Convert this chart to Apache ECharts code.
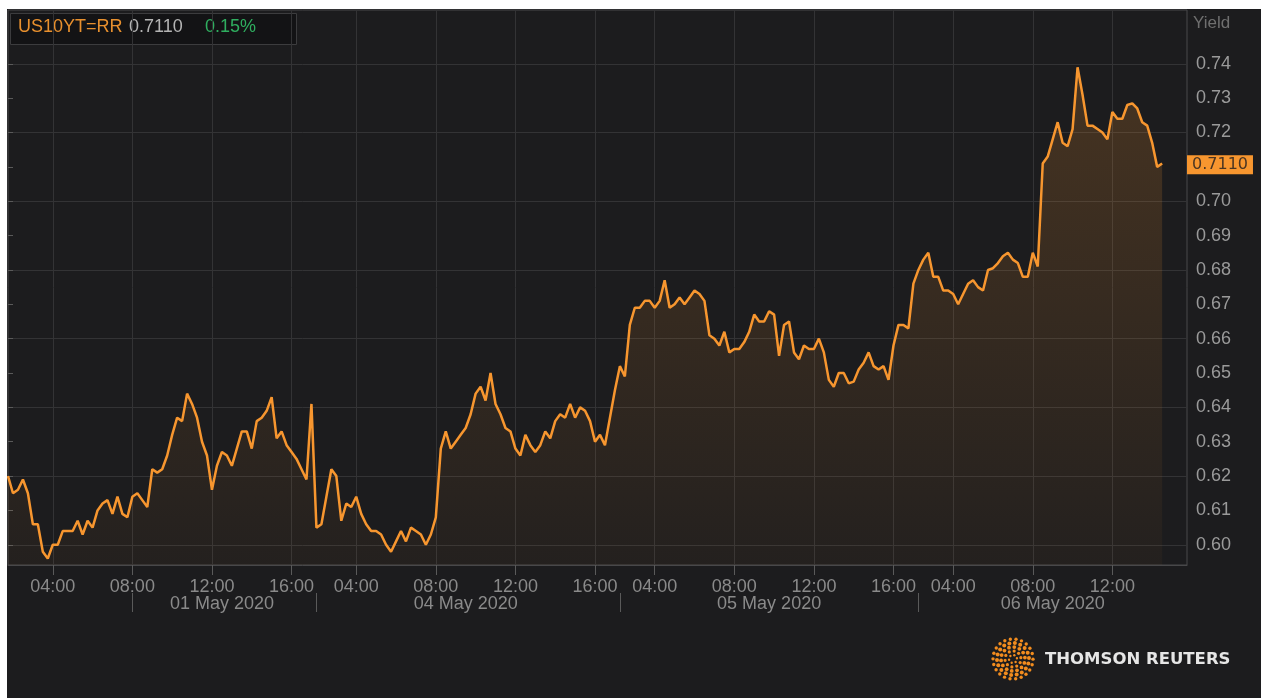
<!DOCTYPE html>
<html>
<head>
<meta charset="utf-8">
<script src="https://cdn.jsdelivr.net/npm/echarts/dist/echarts.min.js"></script>
<style>
html,body{margin:0;padding:0;background:#ffffff;width:1261px;height:698px;overflow:hidden}
#chart{position:absolute;left:7px;top:9px;width:1254px;height:689px;background:#1c1c1e}
</style>
</head>
<body>
<div id="chart"></div>
<script>
// ---------- data ----------
const instrument = 'US10YT=RR';
const changePct = '0.15%';
const yAxisTitle = 'Yield';

// trading sessions shown on the axis (15-minute samples)
const sessions = [
  { date: '01 May 2020', start: '01:45', end: '17:00' },
  { date: '04 May 2020', start: '02:00', end: '17:00' },
  { date: '05 May 2020', start: '02:15', end: '17:00' },
  { date: '06 May 2020', start: '02:15', end: '15:45' }
];

const day1 = [0.620,0.615,0.616,0.619,0.615,0.606,0.606,0.598,0.596,0.600,
              0.600,0.604,0.604,0.604,0.607,0.603,0.607,0.605,0.610,0.612,
              0.613,0.609,0.614,0.609,0.608,0.614,0.615,0.613,0.611,0.622,
              0.621,0.622,0.626,0.632,0.637,0.636,0.644,0.641,0.637,0.630,
              0.626,0.616,0.623,0.627,0.626,0.623,0.628,0.633,0.633,0.628,
              0.636,0.637,0.639,0.643,0.631,0.633,0.629,0.627,0.625,0.622,
              0.619,0.641];
const day2 = [0.605,0.606,0.614,0.622,0.620,0.607,0.612,0.611,0.614,0.609,
              0.606,0.604,0.604,0.603,0.600,0.598,0.601,0.604,0.601,0.605,
              0.604,0.603,0.600,0.603,0.608,0.628,0.633,0.628,0.630,0.632,
              0.634,0.638,0.644,0.646,0.642,0.650,0.641,0.638,0.634,0.633,
              0.628,0.626,0.632,0.629,0.627,0.629,0.633,0.631,0.636,0.638,
              0.637,0.641,0.637,0.640,0.639,0.636,0.630,0.632,0.629,0.637,
              0.645];
const day3 = [0.652,0.649,0.664,0.669,0.669,0.671,0.671,0.669,0.671,0.677,
              0.669,0.670,0.672,0.670,0.672,0.674,0.673,0.671,0.661,0.660,
              0.658,0.662,0.656,0.657,0.657,0.659,0.662,0.667,0.665,0.665,
              0.668,0.667,0.655,0.664,0.665,0.656,0.654,0.658,0.657,0.657,
              0.660,0.656,0.648,0.646,0.650,0.650,0.647,0.6475,0.651,0.653,
              0.656,0.652,0.651,0.652,0.648,0.658,0.664,0.664,0.663,0.676];
const day4 = [0.680,0.683,0.685,0.678,0.678,0.674,0.674,0.673,0.670,0.673,
              0.676,0.677,0.675,0.674,0.680,0.6805,0.682,0.684,0.685,0.683,
              0.682,0.678,0.678,0.685,0.681,0.711,0.713,0.718,0.723,0.717,
              0.716,0.721,0.739,0.731,0.722,0.722,0.721,0.720,0.718,0.726,
              0.724,0.724,0.728,0.7285,0.727,0.723,0.722,0.717,0.710,0.711];

const timeTickLabels = ['04:00', '08:00', '12:00', '16:00'];
const dateSeparators = ['01 May 2020 08:00', '04 May 2020 02:00', '05 May 2020 02:15', '06 May 2020 02:15'];

// ---------- build ----------
function toMin(s){ const p = s.split(':').map(Number); return p[0]*60 + p[1]; }
function fmt(m){ return String(Math.floor(m/60)).padStart(2,'0') + ':' + String(m%60).padStart(2,'0'); }
const categories = [];
sessions.forEach(s => { for (let m = toMin(s.start); m <= toMin(s.end); m += 15) categories.push(s.date + ' ' + fmt(m)); });
const values = [].concat(day1, day2, day3, day4);
const seriesData = categories.map((c, i) => i < values.length ? values[i] : null);
const lastValue = values[values.length - 1];
const lastPrice = lastValue.toFixed(4);

const sepIdx = dateSeparators.map(s => categories.indexOf(s));
const bounds = sepIdx.concat([categories.length - 1]);
const dateLabelIdx = [];
for (let k = 0; k < bounds.length - 1; k++) dateLabelIdx.push(Math.floor((bounds[k] + bounds[k+1]) / 2));

const isTimeTick = (i, v) => timeTickLabels.indexOf(v.slice(-5)) >= 0;
const isSep = (i, v) => dateSeparators.indexOf(v) >= 0;
const isDateLabel = (i, v) => dateLabelIdx.indexOf(i) >= 0;

const FONT = '"Liberation Sans", Arial, sans-serif';
const ORANGE = '#f7962f';

// layout: grid 0 = plot box, grid 1 = 0.60..0.74 span for labels/gridlines
const plotTop = 1, plotBottom = 133, plotLeft = 1, plotRight = 74;
const yMin = 0.59412, yMax = 0.75566;
const plotH = 689 - plotTop - plotBottom;
const pxPerUnit = plotH / (yMax - yMin);
const g1Top = plotTop + (yMax - 0.74) * pxPerUnit;
const g1Bottom = plotBottom + (0.60 - yMin) * pxPerUnit;

// logo dots
const logoDots = [];
const rings = [[4,6,1.2],[8,10,1.6],[12,14,1.9],[16,18,2.0],[20,22,1.7]];
rings.forEach(r => { for (let k = 0; k < r[1]; k++) { const a = k / r[1] * Math.PI * 2 + r[0]; logoDots.push({ type:'circle', shape:{ cx: 1006 + Math.cos(a)*r[0], cy: 650 + Math.sin(a)*r[0], r: r[2] }, style:{ fill:'#f28c1e' } }); } });

const chart = echarts.init(document.getElementById('chart'), null, { renderer: 'canvas' });
chart.setOption({
  animation: false,
  backgroundColor: '#1c1c1e',
  grid: [
    { left: plotLeft, right: plotRight, top: plotTop, bottom: plotBottom, show: true, borderColor: '#48484a', borderWidth: 1, backgroundColor: 'transparent' },
    { left: plotLeft, right: plotRight, top: g1Top, bottom: g1Bottom }
  ],
  xAxis: [
    { type: 'category', gridIndex: 0, data: categories, boundaryGap: false,
      axisLine: { show: true, lineStyle: { color: '#48484a' } },
      axisTick: { show: true, interval: isTimeTick, length: 10, lineStyle: { color: '#5a5a5a' } },
      axisLabel: { interval: isTimeTick, formatter: v => v.slice(-5), color: '#8a8a8a', fontSize: 18, fontFamily: FONT, margin: 13 },
      splitLine: { show: true, interval: isTimeTick, lineStyle: { color: '#333335' } } },
    { type: 'category', gridIndex: 0, data: categories, boundaryGap: false, position: 'bottom', offset: 28,
      axisLine: { show: false },
      axisTick: { show: true, interval: isSep, length: 19, lineStyle: { color: '#5a5a5a' } },
      axisLabel: { interval: isDateLabel, formatter: v => v.slice(0, 11), color: '#8a8a8a', fontSize: 18, fontFamily: FONT, margin: 2 },
      splitLine: { show: false } },
    { type: 'value', gridIndex: 1, show: false }
  ],
  yAxis: [
    { type: 'value', gridIndex: 0, min: yMin, max: yMax, show: false },
    { type: 'value', gridIndex: 1, min: 0.60, max: 0.74, interval: 0.01, position: 'right',
      axisLine: { show: false },
      axisTick: { show: true, length: 5, lineStyle: { color: '#5a5a5a' } },
      axisLabel: { color: '#9a9a9a', fontSize: 18, fontFamily: FONT, margin: 9, formatter: v => v.toFixed(2) },
      splitLine: { show: true, lineStyle: { color: ['#333335', 'rgba(0,0,0,0)'] } } }
  ],
  series: [{
    type: 'line', xAxisIndex: 0, yAxisIndex: 0, data: seriesData,
    symbol: 'none', showSymbol: false, z: 3,
    lineStyle: { color: ORANGE, width: 2.5 },
    itemStyle: { color: ORANGE },
    areaStyle: { color: new echarts.graphic.LinearGradient(0, 0, 0, 1, [
      { offset: 0, color: 'rgba(247,150,47,0.28)' },
      { offset: 1, color: 'rgba(247,150,47,0.05)' }]) },
    markLine: {
      silent: true, symbol: 'none', animation: false, z: 10,
      lineStyle: { color: 'rgba(0,0,0,0)', width: 1, type: 'solid' },
      label: { show: true, position: 'end', distance: 0, formatter: lastPrice, offset: [0, -2],
               backgroundColor: ORANGE, color: '#4a3522', fontFamily: '"DejaVu Sans", sans-serif', fontSize: 16,
               padding: [1, 5, 1, 5], lineHeight: 17 },
      emphasis: { disabled: true },
      data: [{ yAxis: lastValue }]
    }
  }],
  graphic: [
    { type: 'rect', shape: { x: 3.5, y: 4.5, width: 286, height: 31 }, style: { fill: '#131315', stroke: '#3c3c3e', lineWidth: 1 } },
    { type: 'text', x: 11, y: 18.5, style: { text: instrument, fill: '#e8902e', font: '18px ' + FONT, textVerticalAlign: 'middle' } },
    { type: 'text', x: 122, y: 18.5, style: { text: lastPrice, fill: '#b4b4b4', font: '18px ' + FONT, textVerticalAlign: 'middle' } },
    { type: 'text', x: 198, y: 18.5, style: { text: changePct, fill: '#2fae5f', font: '18px ' + FONT, textVerticalAlign: 'middle' } },
    { type: 'text', x: 1186, y: 14, style: { text: yAxisTitle, fill: '#6f6f6f', font: '17px ' + FONT, textVerticalAlign: 'middle' } },
    { type: 'group', children: logoDots },
    { type: 'text', x: 1038, y: 651, style: { text: 'THOMSON REUTERS', fill: '#e6e6e6', font: 'bold 16.5px "DejaVu Sans", sans-serif', textVerticalAlign: 'middle' } }
  ]
});
</script>
</body>
</html>
